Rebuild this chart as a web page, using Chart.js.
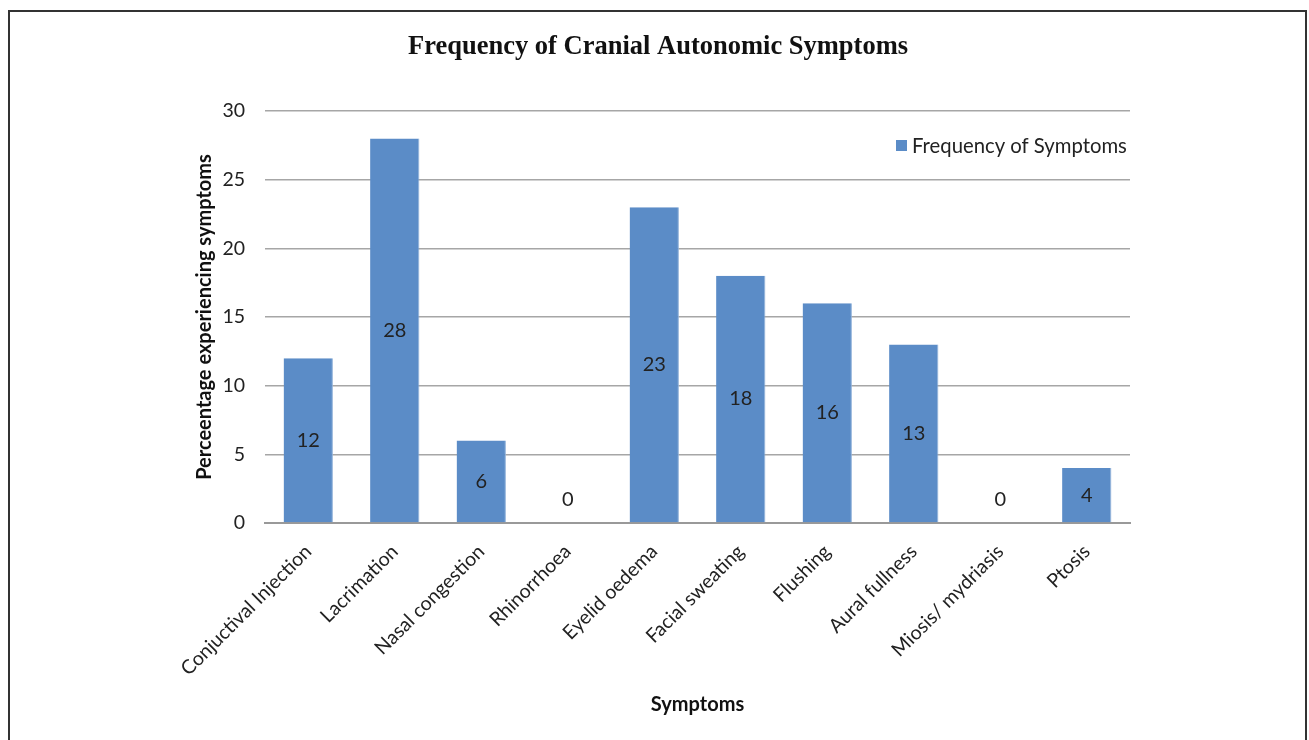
<!DOCTYPE html>
<html>
<head>
<meta charset="utf-8">
<script src="https://cdn.jsdelivr.net/npm/chart.js@4"></script>
<style>
  html, body { margin: 0; padding: 0; background: #fff; }
  #wrap { width: 1309px; height: 740px; }
</style>
</head>
<body>
<div id="wrap"><canvas id="myChart" width="1309" height="740"></canvas></div>
<script>
const categories = [
  'Conjuctival Injection', 'Lacrimation', 'Nasal congestion', 'Rhinorrhoea',
  'Eyelid oedema', 'Facial sweating', 'Flushing', 'Aural fullness',
  'Miosis/ mydriasis', 'Ptosis'
];
const symptomValues = [12, 28, 6, 0, 23, 18, 16, 13, 0, 4];
const yTicks = [0, 5, 10, 15, 20, 25, 30];

const barColor = '#5b8cc7';
const labelFont = 'Lato, "Noto Sans", sans-serif';

// frame, title and legend drawn by hand so they stay out of the layout
const decorations = {
  id: 'decorations',
  beforeDraw(chart) {
    const ctx = chart.ctx;
    ctx.save();
    ctx.fillStyle = '#fff';
    ctx.fillRect(0, 0, chart.width, chart.height);
    ctx.strokeStyle = '#333';
    ctx.lineWidth = 2;
    ctx.strokeRect(9, 11, 1297, 760);
    ctx.restore();
  },
  afterDraw(chart) {
    const ctx = chart.ctx;
    ctx.save();
    ctx.fillStyle = '#111';
    ctx.font = 'bold 26.5px "Liberation Serif", serif';
    ctx.textAlign = 'center';
    ctx.textBaseline = 'middle';
    ctx.fillText('Frequency of Cranial Autonomic Symptoms', 658, 47);

    // legend
    ctx.fillStyle = barColor;
    ctx.fillRect(896, 140, 11, 11);
    ctx.fillStyle = '#222';
    ctx.font = '20.3px ' + labelFont;
    ctx.textAlign = 'left';
    ctx.fillText(chart.data.datasets[0].label, 912, 146);
    ctx.restore();
  }
};

// value labels in the middle of each bar
const valueLabels = {
  id: 'valueLabels',
  afterDatasetsDraw(chart) {
    const ctx = chart.ctx;
    const meta = chart.getDatasetMeta(0);
    const data = chart.data.datasets[0].data;
    ctx.save();
    ctx.fillStyle = '#222';
    ctx.font = '20px ' + labelFont;
    ctx.textAlign = 'center';
    ctx.textBaseline = 'middle';
    meta.data.forEach((bar, i) => {
      let y = (bar.y + bar.base) / 2;
      if (data[i] === 0) y = bar.base - 23;
      ctx.fillText(String(data[i]), bar.x, y);
    });
    ctx.restore();
  }
};

new Chart(document.getElementById('myChart'), {
  type: 'bar',
  data: {
    labels: categories,
    datasets: [{
      label: 'Frequency of Symptoms',
      data: symptomValues,
      backgroundColor: barColor,
      borderColor: '#8fb0d9',
      borderWidth: { right: 1 },
      categoryPercentage: 1,
      barPercentage: 0.57
    }]
  },
  options: {
    responsive: false,
    animation: false,
    devicePixelRatio: 1,
    layout: {
      padding: { left: 190, top: 111, right: 179, bottom: 21 }
    },
    plugins: {
      legend: { display: false },
      tooltip: { enabled: false }
    },
    scales: {
      x: {
        grid: { display: false, drawTicks: false },
        border: { color: '#999', width: 2 },
        ticks: {
          color: '#222',
          font: { family: labelFont, size: 19.5 },
          maxRotation: 45,
          minRotation: 45,
          padding: 17
        },
        title: {
          display: true,
          text: 'Symptoms',
          color: '#111',
          font: { family: labelFont, size: 20, weight: 'bold' },
          padding: 2
        },
        afterFit(scale) { scale.height = 196; }
      },
      y: {
        min: 0,
        max: 30,
        afterBuildTicks(scale) { scale.ticks = yTicks.map(v => ({ value: v })); },
        grid: { color: '#a6a6a6', lineWidth: 1.5, drawTicks: false },
        border: { display: false },
        ticks: {
          color: '#222',
          font: { family: labelFont, size: 19.5 },
          padding: 20
        },
        title: {
          display: true,
          text: 'Perceentage experiencing symptoms',
          color: '#111',
          font: { family: labelFont, size: 20, weight: 'bold' },
          padding: 3
        },
        afterFit(scale) { scale.width = 75; }
      }
    }
  },
  plugins: [decorations, valueLabels]
});
</script>
</body>
</html>
